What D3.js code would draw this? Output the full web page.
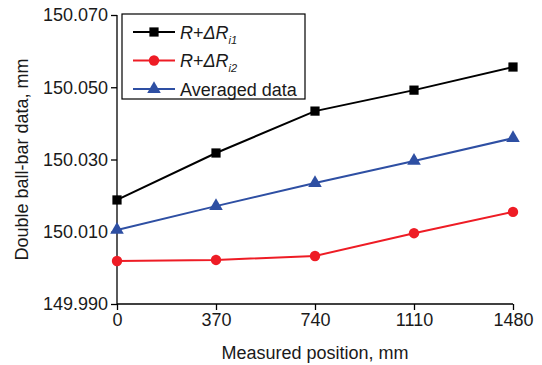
<!DOCTYPE html>
<html>
<head>
<meta charset="utf-8">
<script src="https://cdn.jsdelivr.net/npm/d3@7"></script>
<style>
  body { margin: 0; background: #fff; }
  svg text { font-family: "Liberation Sans", Arial, sans-serif; fill: #1a1a1a; }
</style>
</head>
<body>
<div id="chart"></div>
<script>
const positions = [0, 370, 740, 1110, 1480];
const xTicks = [0, 370, 740, 1110, 1480];
const yTicks = [149.990, 150.010, 150.030, 150.050, 150.070];
const seriesR1 = [150.0188, 150.0318, 150.0434, 150.0492, 150.0556];
const seriesR2 = [150.0019, 150.0022, 150.0033, 150.0096, 150.0155];
const seriesAvg = [150.0105, 150.0171, 150.0235, 150.0296, 150.0359];
const seriesNames = ["R1", "R2", "Averaged data"];

(() => {
    const width = 542, height = 365, margin = { top: 15, right: 29, bottom: 61, left: 117 };
    const innerW = width - margin.left - margin.right;
    const innerH = height - margin.top - margin.bottom;

    const series = [
        { name: seriesNames[0], values: seriesR1, color: "#000000", marker: "square" },
        { name: seriesNames[1], values: seriesR2, color: "#ee1c25", marker: "circle" },
        { name: seriesNames[2], values: seriesAvg, color: "#2e4fa3", marker: "triangle" }
    ];

    const svg = d3.select("#chart").append("svg")
        .attr("width", width)
        .attr("height", height);

    const chart = svg.append("g")
        .attr("transform", `translate(${margin.left},${margin.top})`);

    const x = d3.scaleLinear().domain([0, 1480]).range([0, innerW]);
    const y = d3.scaleLinear().domain([149.990, 150.070]).range([innerH, 0]);

    const xAxis = chart.append("g")
        .attr("transform", `translate(0,${innerH})`)
        .call(d3.axisBottom(x).tickValues(xTicks).tickSize(6).tickPadding(3).tickFormat(d3.format("d")));
    const yAxis = chart.append("g")
        .call(d3.axisLeft(y).tickValues(yTicks).tickSize(6).tickPadding(3).tickFormat(d3.format(".3f")));

    [xAxis, yAxis].forEach(a => {
        a.select(".domain").attr("stroke", "#000").attr("stroke-width", 1.3);
        a.selectAll(".tick line").attr("stroke", "#000").attr("stroke-width", 1.3);
        a.selectAll(".tick text").style("font-size", "18px").attr("fill", "#1a1a1a");
    });
    // axis domains: drop the end ticks d3 adds (outer tick size)
    xAxis.select(".domain").attr("d", `M0,0H${innerW}`);
    yAxis.select(".domain").attr("d", `M0,${innerH}V0`);

    const line = d3.line().x((d, i) => x(positions[i])).y(d => y(d));

    const symbolFor = m => m === "square" ? d3.symbolSquare : m === "circle" ? d3.symbolCircle : d3.symbolTriangle;
    const sizeFor = m => m === "square" ? 85 : m === "circle" ? 85 : 80;

    series.forEach(s => {
        chart.append("path")
            .datum(s.values)
            .attr("fill", "none")
            .attr("stroke", s.color)
            .attr("stroke-width", 2)
            .attr("d", line);

        chart.selectAll(null)
            .data(s.values)
            .enter()
            .append("path")
            .attr("transform", (d, i) => `translate(${x(positions[i])},${y(d)})`)
            .attr("d", d3.symbol().type(symbolFor(s.marker)).size(sizeFor(s.marker)))
            .attr("fill", s.color);
    });

    // legend
    const legend = svg.append("g").attr("transform", "translate(122,14)");
    legend.append("rect")
        .attr("width", 183).attr("height", 85)
        .attr("fill", "#fff").attr("stroke", "#000").attr("stroke-width", 1.2);

    series.forEach((s, i) => {
        const g = legend.append("g").attr("transform", `translate(0,${18 + i * 28.5})`);
        g.append("line")
            .attr("x1", 11).attr("x2", 53)
            .attr("stroke", s.color).attr("stroke-width", 2);
        g.append("path")
            .attr("transform", "translate(32,0)")
            .attr("d", d3.symbol().type(symbolFor(s.marker)).size(sizeFor(s.marker)))
            .attr("fill", s.color);
        const t = g.append("text")
            .attr("x", 58).attr("y", 6.5)
            .style("font-size", "18px");
        if (i < 2) {
            t.append("tspan").style("font-style", "italic").text("R");
            t.append("tspan").text("+");
            t.append("tspan").style("font-style", "italic").text("ΔR");
            t.append("tspan").style("font-style", "italic").style("font-size", "11px")
                .attr("dy", 5).text(i === 0 ? "i1" : "i2");
        } else {
            t.text(s.name);
        }
    });

    svg.append("text")
        .attr("x", margin.left + innerW / 2)
        .attr("y", 359)
        .attr("text-anchor", "middle")
        .style("font-size", "18px")
        .text("Measured position, mm");

    svg.append("text")
        .attr("transform", "rotate(-90)")
        .attr("x", -(margin.top + innerH / 2))
        .attr("y", 28)
        .attr("text-anchor", "middle")
        .style("font-size", "18px")
        .text("Double ball-bar data, mm");
})();
</script>
</body>
</html>
